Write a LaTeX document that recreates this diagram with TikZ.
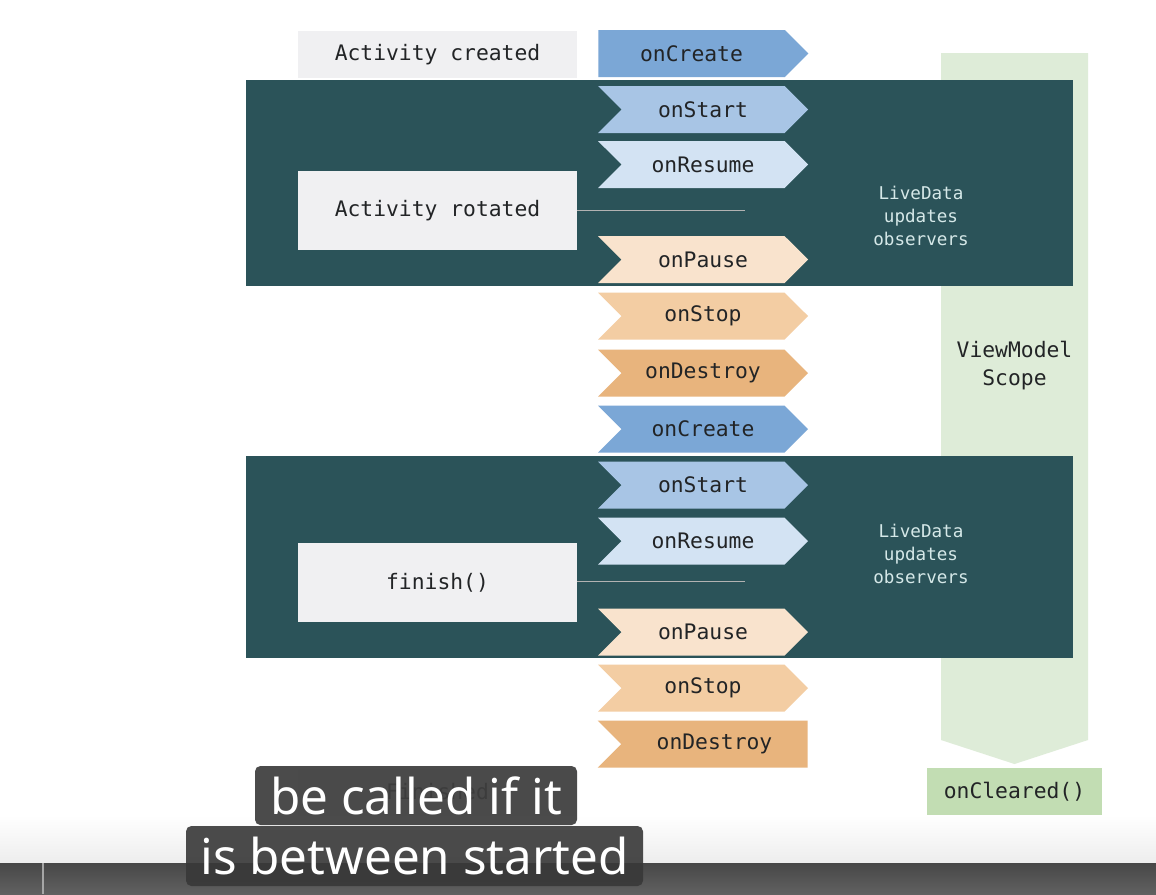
\documentclass[tikz,border=0pt]{standalone}
\usepackage{fontspec}
\setmonofont{DejaVu Sans Mono}
\newfontfamily\capfont{Noto Sans}
\usetikzlibrary{shapes.symbols}

\definecolor{slate}{HTML}{2B5359}
\definecolor{ink}{HTML}{222426}
\definecolor{boxgray}{HTML}{F0F0F2}
\definecolor{createblue}{HTML}{7BA7D6}
\definecolor{startblue}{HTML}{A8C5E5}
\definecolor{resumeblue}{HTML}{D3E3F3}
\definecolor{pauseorange}{HTML}{F9E3CD}
\definecolor{stoporange}{HTML}{F3CDA3}
\definecolor{destroyorange}{HTML}{E8B47D}
\definecolor{scopegreen}{HTML}{DEECD8}
\definecolor{clearedgreen}{HTML}{C2DDB3}
\definecolor{livetext}{HTML}{D5E8E8}

\begin{document}
\begin{tikzpicture}[x=0.75pt,y=-0.75pt,
  stage/.style={signal, signal to=east, signal from=west, signal pointer angle=90,
    minimum width=157.5pt, minimum height=35.25pt, inner sep=0pt,
    font=\ttfamily\fontsize{16}{18}\selectfont, text=ink},
  state/.style={fill=boxgray, minimum width=209.25pt, minimum height=35.25pt, inner sep=0pt,
    font=\ttfamily\fontsize{16}{18}\selectfont, text=ink},
  livenote/.style={align=center, text=livetext, font=\ttfamily\fontsize{13.2}{17.25}\selectfont},
  caption/.style={fill=black!78, fill opacity=0.9, text opacity=1, text=white, rounded corners=4pt,
    inner sep=0pt, font=\capfont\fontsize{37}{40}\selectfont}]
  \useasboundingbox (0,0) rectangle (1156,894);
  \fill[white] (0,0) rectangle (1156,894);
  \shade[top color=white, bottom color=black!7] (0,815) rectangle (1156,863);
  \shade[top color=black!72, bottom color=black!62] (0,863) rectangle (1156,894);
  \draw[black!35, line width=1.2pt] (43,863) -- (43,894);

  % ViewModel scope band
  \fill[scopegreen] (941,53) -- (1088,53) -- (1088,740) -- (1014.5,764) -- (941,740) -- cycle;
  \node[font=\ttfamily\fontsize{16}{21}\selectfont, text=ink, align=center] (vmscope) at (1014.5,366) {ViewModel\\Scope};
  \node[fill=clearedgreen, minimum width=131.25pt, minimum height=35.25pt, inner sep=0pt,
    font=\ttfamily\fontsize{16}{18}\selectfont, text=ink] (cleared) at (1014.5,791.5) {onCleared()};

  % started/resumed panels
  \fill[slate] (246,80) rectangle (1073,286);
  \fill[slate] (246,456) rectangle (1073,658);
  \node[livenote] (live1) at (921,216) {LiveData\\updates\\observers};
  \node[livenote] (live2) at (921,554) {LiveData\\updates\\observers};

  % events
  \node[state] (created) at (437.5,54.5) {Activity created};
  \node[state, minimum height=59.25pt] (rotated) at (437.5,210.5) {Activity rotated};
  \node[state, minimum height=59.25pt] (finish) at (437.5,582.5) {finish()};
  \coordinate (rotatedend) at (745,210.5);
  \coordinate (finishend) at (745,581.5);
  \draw[black!30, line width=1pt] (rotated.east) -- (rotatedend);
  \draw[black!30, line width=1pt] (finish.east |- finishend) -- (finishend);

  % lifecycle callbacks
  \node[stage, fill=createblue, signal from=nowhere, anchor=west] (create1) at (598,53.5) {onCreate};
  \foreach \y/\name/\txt/\col in {109.5/start1/onStart/startblue, 164.5/resume1/onResume/resumeblue,
      259.5/pause1/onPause/pauseorange, 316/stop1/onStop/stoporange,
      373/destroy1/onDestroy/destroyorange, 429/create2/onCreate/createblue,
      485/start2/onStart/startblue, 541/resume2/onResume/resumeblue,
      632/pause2/onPause/pauseorange, 688/stop2/onStop/stoporange}
    \node[stage, fill=\col] (\name) at (703,\y) {\txt};
  \node[stage, fill=destroyorange, signal to=nowhere, anchor=east] (destroy2) at (808,744) {onDestroy};

  % video subtitles
  \node[state, text=black!60] (finished) at (437.5,792) {Finished};
  \node[caption, minimum width=241.5pt, minimum height=44.25pt] (cap1) at (416,795.5) {be called if it};
  \node[caption, minimum width=342.75pt, minimum height=45pt] (cap2) at (414.5,856) {is between started};
\end{tikzpicture}
\end{document}
